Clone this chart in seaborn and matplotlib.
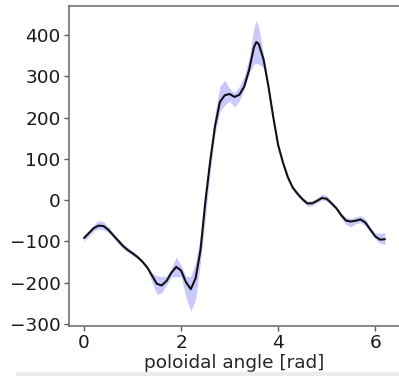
### poloidal profile with uncertainty band
# mean profile vs poloidal angle, shaded band shows the spread

# import statements
from matplotlib.patches import Rectangle
import matplotlib
matplotlib.use('Agg')
import matplotlib.pyplot as plt
import numpy as np
import pandas as pd
import seaborn as sns

# values
theta = [0.00, 0.10, 0.20, 0.30, 0.40, 0.50, 0.60, 0.70, 0.80, 0.90,
         1.00, 1.10, 1.20, 1.30, 1.40, 1.50, 1.60, 1.70, 1.80, 1.90,
         2.00, 2.10, 2.20, 2.30, 2.40, 2.50, 2.60, 2.70, 2.80, 2.90,
         3.00, 3.10, 3.20, 3.30, 3.40, 3.50, 3.55, 3.60, 3.70, 3.80,
         3.90, 4.00, 4.10, 4.20, 4.30, 4.40, 4.50, 4.60, 4.70, 4.80,
         4.90, 5.00, 5.10, 5.20, 5.30, 5.40, 5.50, 5.60, 5.70, 5.80,
         5.90, 6.00, 6.10, 6.20]

mean  = [-92, -80, -68, -62, -63, -72, -85, -98, -111, -121,
         -129, -138, -149, -163, -183, -203, -207, -196, -176, -162,
         -171, -199, -216, -189, -121, -3, 95, 180, 238, 254,
         257, 250, 255, 275, 315, 370, 383, 378, 340, 275,
         200, 133, 90, 55, 30, 15, 2, -8, -8, -2,
         5, 3, -8, -20, -37, -50, -52, -50, -47, -55,
         -72, -88, -96, -95]

upper = [-85, -73, -60, -50, -52, -65, -80, -93, -104, -115,
         -124, -133, -145, -159, -176, -184, -185, -185, -165, -138,
         -158, -185, -185, -150, -85, 10, 112, 212, 276, 290,
         270, 260, 276, 300, 345, 418, 435, 420, 352, 282,
         205, 138, 95, 60, 35, 20, 7, -2, -2, 5,
         15, 11, -3, -15, -31, -42, -45, -40, -38, -47,
         -66, -80, -80, -80]

lower = [-100, -88, -75, -70, -72, -79, -91, -105, -118, -127,
         -134, -142, -153, -168, -200, -228, -225, -206, -186, -186,
         -186, -235, -270, -240, -150, -45, 70, 160, 215, 230,
         240, 225, 240, 268, 305, 330, 330, 330, 320, 268,
         195, 128, 85, 50, 25, 10, -3, -15, -14, -7,
         0, -3, -13, -25, -44, -60, -65, -57, -55, -63,
         -78, -95, -105, -108]

# build dataframe
df = pd.DataFrame({'theta': theta, 'mean': mean,
                   'upper': upper, 'lower': lower})

# graphical parameters
sns.set_theme(style = 'ticks')
plt.rcParams['font.family'] = ['DejaVu Sans']
FS = 13.3

fig = plt.figure(figsize = (3.99, 3.76), dpi = 100)
ax = fig.add_axes([69 / 399, 1 - 326 / 376, 331 / 399, 320 / 376])

# uncertainty band and mean profile
ax.fill_between(df.theta, df.lower, df.upper, color = 'blue', alpha = 0.21,
                linewidth = 0)
sns.lineplot(x = 'theta', y = 'mean', data = df, color = '#111111',
             linewidth = 1.5, ax = ax)

# axes and labels
ax.set_xticks([0, 2, 4, 6])
ax.set_yticks([-300, -200, -100, 0, 100, 200, 300, 400])
ax.set_xlabel('poloidal angle [rad]', fontsize = FS, labelpad = 1.5)
ax.set_ylabel('')
ax.tick_params(axis = 'both', labelsize = FS, length = 3.5, width = 1,
               direction = 'out', color = '0.35', labelcolor = '#1a1a1a',
               pad = 2.5)
for side in ['left', 'right', 'top', 'bottom']:
    ax.spines[side].set_visible(True)
    ax.spines[side].set_color('0.45')
    ax.spines[side].set_linewidth(1.2)

# light gray strip at the bottom of the screenshot
fig.add_artist(Rectangle((16 / 399, 0), 1, 4 / 376,
                         transform = fig.transFigure, color = '#ececec',
                         zorder = 10))

# save figure
fig.savefig('out.png', dpi = 100)
